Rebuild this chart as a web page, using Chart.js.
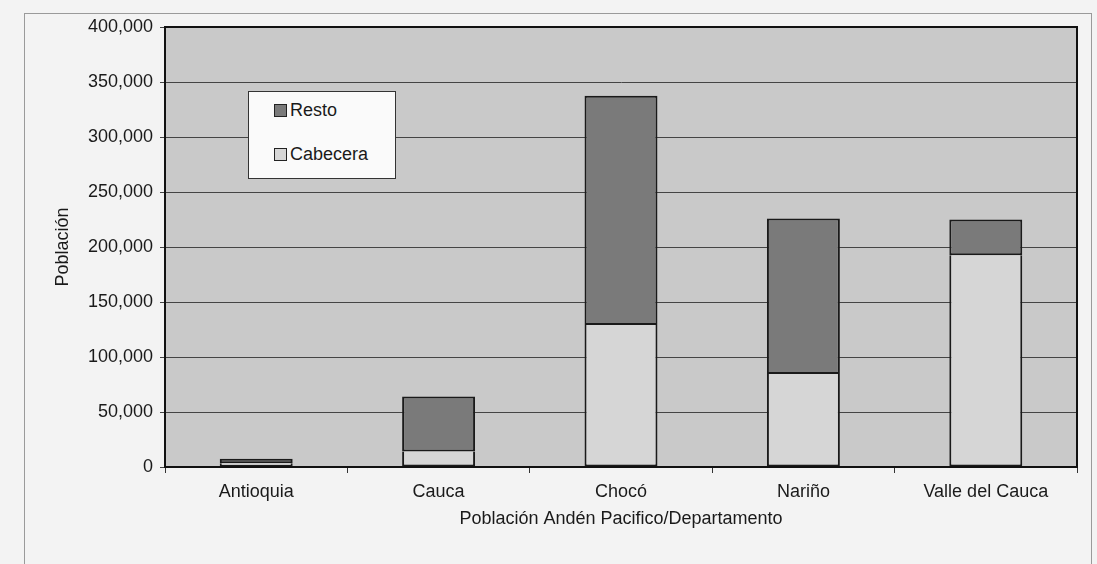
<!DOCTYPE html>
<html>
<head>
<meta charset="utf-8">
<script src="https://cdn.jsdelivr.net/npm/chart.js@4.4.1/dist/chart.umd.min.js"></script>
<style>
    body { margin: 0; background: #f3f3f3; }
    #wrap { position: relative; width: 1097px; height: 564px; overflow: hidden; }
    #frame { position: absolute; left: 24px; top: 13px; width: 1066px; height: 600px; border: 1px solid #9a9a9a; }
    #salesChart { position: absolute; left: 0; top: 0; }
    #legend {
        position: absolute; left: 248px; top: 91px; width: 146px; height: 86px;
        background: #fafafa; border: 1px solid #333;
        font-family: Arial, "Liberation Sans", sans-serif; font-size: 18px; color: #1a1a1a;
    }
    .item { position: absolute; left: 25px; height: 20px; line-height: 20px; }
    .sw { display: inline-block; width: 11px; height: 11px; border: 1.5px solid #222; margin-right: 3px; vertical-align: -1px; }
</style>
</head>
<body>
<div id="wrap">
    <div id="frame"></div>
    <canvas id="salesChart" width="1097" height="564"></canvas>
    <div id="legend">
        <div class="item" style="top:8px"><span class="sw" style="background:#7a7a7a"></span>Resto</div>
        <div class="item" style="top:52px"><span class="sw" style="background:#d6d6d6"></span>Cabecera</div>
    </div>
</div>
<script>
const departamentos = ['Antioquia', 'Cauca', 'Chocó', 'Nariño', 'Valle del Cauca'];
const cabecera = [3500, 14000, 129000, 84500, 192500];
const resto = [4000, 50000, 208500, 141500, 32500];
const yTicks = [0, 50000, 100000, 150000, 200000, 250000, 300000, 350000, 400000];

const fuente = { family: 'Arial, "Liberation Sans", sans-serif', size: 18 };

// fondo y marco del area de trazado
const plotArea = {
    id: 'plotArea',
    beforeDraw(chart) {
        const a = chart.chartArea;
        const ctx = chart.ctx;
        ctx.save();
        ctx.fillStyle = '#c9c9c9';
        ctx.fillRect(a.left, a.top, a.right - a.left, a.bottom - a.top);
        ctx.restore();
    },
    afterDraw(chart) {
        const a = chart.chartArea;
        const ctx = chart.ctx;
        ctx.save();
        ctx.strokeStyle = '#111';
        ctx.lineWidth = 2;
        ctx.strokeRect(a.left, a.top, a.right - a.left, a.bottom - a.top);
        ctx.restore();
    }
};

const salesChartCanvas = document.getElementById('salesChart').getContext('2d');

new Chart(salesChartCanvas, {
    type: 'bar',
    data: {
        labels: departamentos,
        datasets: [{
            label: 'Cabecera',
            data: cabecera,
            backgroundColor: '#d6d6d6',
            borderColor: '#1a1a1a',
            borderWidth: 2,
            borderSkipped: 'top'
        }, {
            label: 'Resto',
            data: resto,
            backgroundColor: '#7a7a7a',
            borderColor: '#1a1a1a',
            borderWidth: 2,
            borderSkipped: false
        }]
    },
    options: {
        responsive: false,
        animation: false,
        layout: { padding: { left: 48, right: 20, top: 27, bottom: 30 } },
        plugins: {
            legend: { display: false },
            tooltip: { enabled: false }
        },
        datasets: {
            bar: { barPercentage: 0.4, categoryPercentage: 1.0 }
        },
        scales: {
            x: {
                stacked: true,
                afterFit(scale) { scale.height = 67; },
                grid: { offset: true, drawOnChartArea: false, drawTicks: true, tickLength: 6, color: '#333' },
                border: { color: '#111', width: 2 },
                ticks: { font: fuente, color: '#1a1a1a', padding: 8 },
                title: { display: true, text: 'Población Andén Pacifico/Departamento', font: fuente, color: '#1a1a1a' }
            },
            y: {
                stacked: true,
                min: 0,
                max: 400000,
                afterFit(scale) { scale.width = 117; },
                afterBuildTicks(scale) { scale.ticks = yTicks.map(v => ({ value: v })); },
                grid: { color: '#444', lineWidth: 1, tickLength: 5 },
                border: { color: '#111', width: 2 },
                ticks: {
                    font: fuente,
                    color: '#1a1a1a',
                    padding: 7,
                    callback: v => v.toLocaleString('en-US')
                },
                title: { display: true, text: 'Población', font: fuente, color: '#1a1a1a' }
            }
        }
    },
    plugins: [plotArea]
});
</script>
</body>
</html>
